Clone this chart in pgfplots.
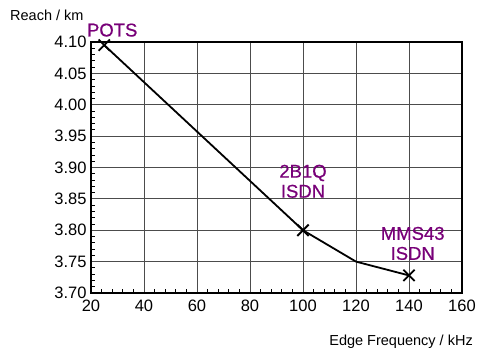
\documentclass[border=0pt]{standalone}
\usepackage{fontspec}
\setmainfont{Liberation Sans}
\newfontfamily\lblfont[FakeBold=0.6]{Liberation Sans}
\usepackage{pgfplots}
\pgfplotsset{compat=1.18}
\definecolor{lblpurple}{RGB}{120,0,120}
\begin{document}
\begin{tikzpicture}[x=1pt,y=1pt]
\useasboundingbox (-91,-60) rectangle (389,293);
\begin{axis}[
  at={(0,0)}, anchor=south west,
  scale only axis, width=371pt, height=251pt,
  xmin=20, xmax=160, ymin=3.70, ymax=4.10,
  xtick={20,40,...,160}, ytick={3.70,3.75,...,4.10},
  minor x tick num=4, minor y tick num=4,
  tick pos=left, tick align=inside,
  major tick length=0pt, minor tick length=4pt,
  grid=major,
  major grid style={line width=0.9pt, color=black!70},
  axis line style={line width=1.5pt},
  every tick/.style={line width=0.8pt, black},
  clip=false,
  /pgf/number format/assume math mode=true,
  ticklabel style={font=\fontsize{16.5}{18}\selectfont},
  yticklabel style={/pgf/number format/fixed, /pgf/number format/fixed zerofill, /pgf/number format/precision=2, xshift=-1pt},
  xticklabel style={yshift=-3pt},
]
\addplot[black, line width=1.8pt, mark=none] coordinates {(25,4.095) (100,3.80) (120,3.75) (140,3.728)};
\addplot[only marks, black, mark=x, mark size=8pt, mark options={line width=1.8pt}] coordinates {(25,4.095) (100,3.80) (140,3.728)};
\node[text=lblpurple, font=\lblfont\fontsize{18.5}{20}\selectfont, inner sep=0pt] at (axis cs:28,4.119) {POTS};
\node[text=lblpurple, font=\lblfont\fontsize{18.5}{20}\selectfont, align=center, inner sep=0pt] at (axis cs:100,3.878) {2B1Q\\ISDN};
\node[text=lblpurple, font=\lblfont\fontsize{18.5}{20}\selectfont, align=center, inner sep=0pt] at (axis cs:141.4,3.779) {MMS43\\ISDN};
\end{axis}
\node[anchor=west, font=\fontsize{14.5}{16}\selectfont, inner sep=0pt] at (-81,278) {Reach / km};
\node[anchor=east, font=\fontsize{14.5}{16}\selectfont, inner sep=0pt] at (382,-49) {Edge Frequency / kHz};
\end{tikzpicture}
\end{document}
